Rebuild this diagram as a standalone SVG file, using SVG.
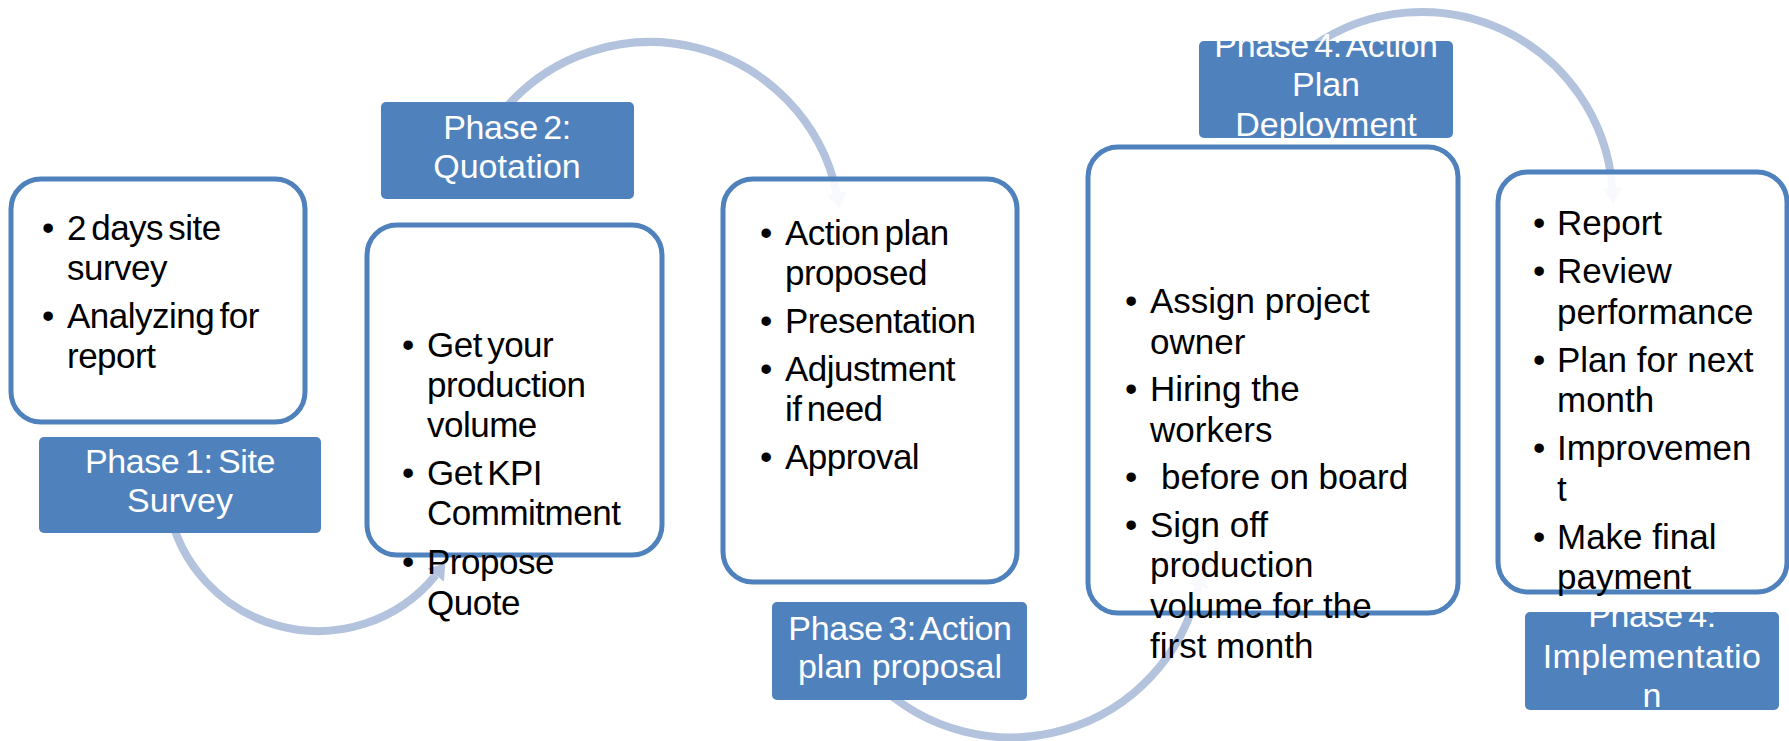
<svg xmlns="http://www.w3.org/2000/svg" width="1789" height="741" viewBox="0 0 1789 741">
<style>
.box{fill:#ffffff;fill-opacity:0.9;stroke:#4f81bd;stroke-width:5}
.lbl{fill:#4f81bd}
.t{font-family:"Liberation Sans",Arial,sans-serif;font-size:35px;fill:#000000}
.c{letter-spacing:-0.5px;word-spacing:-4px}
.lt{font-family:"Liberation Sans",Arial,sans-serif;font-size:34px;fill:#ffffff;text-anchor:middle}
.ph{letter-spacing:-0.4px;word-spacing:-3.5px}
.arc{fill:none;stroke:#b3c2dd;stroke-width:8;marker-end:url(#ah)}
</style>
<defs>
<marker id="ah" markerUnits="userSpaceOnUse" markerWidth="15" markerHeight="21" refX="0" refY="10.5" orient="auto" viewBox="0 0 15 21">
<path d="M0,0 L15,10.5 L0,21 z" fill="#b3c2dd"/>
</marker>
</defs>

<g id="connectors">
<path class="arc" d="M168.3,505.4 A152,152 0 0 0 435.8,575.1"/>
<path class="arc" d="M503.7,110.2 A191,191 0 0 1 836.8,193.3"/>
<path class="arc" d="M875,681 A192,192 0 0 0 1198.4,586.6"/>
<path class="arc" d="M1312.4,46.5 A191,191 0 0 1 1612.4,188"/>
</g>

<g id="box1">
<rect class="box" x="11" y="179" width="294" height="243" rx="30"/>
<text class="t" x="42" y="240">•</text><text class="t c" x="67" y="240">2 days site</text>
<text class="t c" x="67" y="280">survey</text>
<text class="t" x="42" y="328">•</text><text class="t c" x="67" y="328">Analyzing for</text>
<text class="t c" x="67" y="368">report</text>
</g>
<g id="phase1">
<rect class="lbl" x="39" y="437" width="282" height="96" rx="5"/>
<text class="lt ph" x="180" y="473">Phase 1: Site</text>
<text class="lt" x="180" y="512">Survey</text>
</g>

<g id="box2">
<rect class="box" x="367" y="225" width="295" height="330" rx="30"/>
<text class="t" x="402" y="357">•</text><text class="t c" x="427" y="357">Get your</text>
<text class="t c" x="427" y="397">production</text>
<text class="t c" x="427" y="437">volume</text>
<text class="t" x="402" y="485">•</text><text class="t c" x="427" y="485">Get KPI</text>
<text class="t c" x="427" y="525">Commitment</text>
<text class="t" x="402" y="574">•</text><text class="t c" x="427" y="574">Propose</text>
<text class="t c" x="427" y="615">Quote</text>
</g>
<g id="phase2">
<rect class="lbl" x="381" y="102" width="253" height="97" rx="5"/>
<text class="lt ph" x="507" y="139">Phase 2:</text>
<text class="lt" x="507" y="178">Quotation</text>
</g>

<g id="box3">
<rect class="box" x="723" y="179" width="294" height="403" rx="30"/>
<text class="t" x="760" y="245">•</text><text class="t c" x="785" y="245">Action plan</text>
<text class="t c" x="785" y="285">proposed</text>
<text class="t" x="760" y="333">•</text><text class="t c" x="785" y="333">Presentation</text>
<text class="t" x="760" y="381">•</text><text class="t c" x="785" y="381">Adjustment</text>
<text class="t c" x="785" y="421">if need</text>
<text class="t" x="760" y="469">•</text><text class="t c" x="785" y="469">Approval</text>
</g>
<g id="phase3">
<rect class="lbl" x="772" y="602" width="255" height="98" rx="5"/>
<text class="lt ph" x="900" y="640">Phase 3: Action</text>
<text class="lt" x="900" y="678">plan proposal</text>
</g>

<g id="box4">
<rect class="box" x="1088" y="147" width="370" height="466" rx="30"/>
<text class="t" x="1125" y="313">•</text><text class="t" x="1150" y="313">Assign project</text>
<text class="t" x="1150" y="353.5">owner</text>
<text class="t" x="1125" y="401">•</text><text class="t" x="1150" y="401">Hiring the</text>
<text class="t" x="1150" y="441.5">workers</text>
<text class="t" x="1125" y="489">•</text><text class="t" x="1161" y="489">before on board</text>
<text class="t" x="1125" y="536.5">•</text><text class="t" x="1150" y="536.5">Sign off</text>
<text class="t" x="1150" y="577">production</text>
<text class="t" x="1150" y="617.5">volume for the</text>
<text class="t" x="1150" y="658">first month</text>
</g>
<g id="phase4">
<rect class="lbl" x="1199" y="41" width="254" height="97" rx="5"/>
<text class="lt ph" x="1326" y="57">Phase 4: Action</text>
<text class="lt" x="1326" y="96">Plan</text>
<text class="lt" x="1326" y="136">Deployment</text>
</g>

<g id="box5">
<rect class="box" x="1498" y="172" width="289" height="420" rx="30"/>
<text class="t" x="1533" y="235">•</text><text class="t" x="1557" y="235">Report</text>
<text class="t" x="1533" y="283">•</text><text class="t" x="1557" y="283">Review</text>
<text class="t" x="1557" y="323.5">performance</text>
<text class="t" x="1533" y="371.5">•</text><text class="t" x="1557" y="371.5">Plan for next</text>
<text class="t" x="1557" y="412">month</text>
<text class="t" x="1533" y="460">•</text><text class="t" x="1557" y="460">Improvemen</text>
<text class="t" x="1557" y="500.5">t</text>
<text class="t" x="1533" y="548.5">•</text><text class="t" x="1557" y="548.5">Make final</text>
<text class="t" x="1557" y="589">payment</text>
</g>
<g id="phase5">
<rect class="lbl" x="1525" y="612" width="254" height="98" rx="5"/>
<text class="lt ph" x="1652" y="627">Phase 4:</text>
<text class="lt" x="1652" y="668" style="letter-spacing:0.4px">Implementatio</text>
<text class="lt" x="1652" y="707">n</text>
</g>
</svg>
